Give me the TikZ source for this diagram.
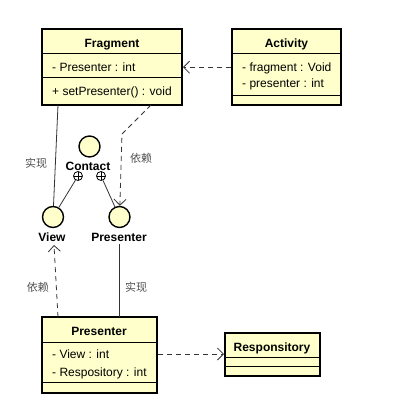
\documentclass[tikz,border=0pt]{standalone}
\usepackage{fontspec}
\setmainfont{Liberation Sans}
\newfontfamily\cjk{Noto Sans CJK SC}
\usetikzlibrary{positioning,arrows.meta}

\definecolor{umlfill}{HTML}{FFFFCC}
\definecolor{linkgray}{HTML}{333333}
\definecolor{notegray}{HTML}{505050}

\tikzset{
  classbox/.style={draw=black, line width=2pt, fill=umlfill, inner sep=0pt},
  title/.style={font=\fontsize{12}{14}\selectfont\bfseries, anchor=base, inner sep=0pt},
  attr/.style={font=\fontsize{12}{14}\selectfont, anchor=base west, inner sep=0pt},
  sepline/.style={line width=0.9pt},
  iface/.style={circle, draw=black, line width=1.4pt, fill=umlfill, minimum size=21pt, inner sep=0pt},
  plus/.style={circle, draw=black, line width=0.8pt, fill=white, minimum size=9pt, inner sep=0pt,
    path picture={\draw[line width=0.6pt] (path picture bounding box.north) -- (path picture bounding box.south)
      (path picture bounding box.west) -- (path picture bounding box.east);}},
  dep/.style={draw=linkgray, line width=0.8pt, dash pattern=on 5pt off 4pt,
    -{Straight Barb[length=6pt,width=12pt]}},
  link/.style={draw=linkgray, line width=0.8pt},
  note/.style={font=\cjk\fontsize{11}{12}\selectfont, text=notegray, inner sep=0pt}
}

\begin{document}
\begin{tikzpicture}[x=1pt,y=-1pt]
\useasboundingbox (0,0) rectangle (412,413);

\def\xfrag{52};
\def\xact{242};

% Fragment
\node[classbox, minimum width=140pt, minimum height=76pt] (frag) at (112,67) {};
\draw[sepline] (42,53) -- (182,53);
\draw[sepline] (42,77) -- (182,77);
\node[title] (fragname) at (112,47.5) {Fragment};
\node[attr] (fragattr) at (\xfrag,71.5) {- Presenter : int};
\node[attr] (fragop) at (\xfrag,95.5) {+ setPresenter() : void};

% Activity
\node[classbox, minimum width=109pt, minimum height=76pt] (act) at (286.5,67) {};
\draw[sepline] (232,53) -- (341,53);
\draw[sepline] (232,95) -- (341,95);
\node[title] (actname) at (286.5,47.5) {Activity};
\node[attr] (actattra) at (\xact,71.5) {- fragment : Void};
\node[attr] (actattrb) at (\xact,87.5) {- presenter : int};

% Presenter class
\node[classbox, minimum width=115pt, minimum height=76pt] (pcls) at (99.5,355) {};
\draw[sepline] (42,342) -- (157,342);
\draw[sepline] (42,382) -- (157,382);
\node[title] (pclsname) at (99,335) {Presenter};
\node[attr] (pclsattra) at (\xfrag,358.5) {- View : int};
\node[attr] (pclsattrb) at (\xfrag,376.5) {- Respository : int};

% Responsitory
\node[classbox, minimum width=95pt, minimum height=43pt] (resp) at (272.5,354.5) {};
\draw[sepline] (225,357) -- (320,357);
\draw[sepline] (225,366) -- (320,366);
\node[title] (respname) at (272,351.5) {Responsitory};

% interfaces
\node[iface] (contact) at (89.5,146.5) {};
\node[title] (contactlbl) at (88,170.5) {Contact};
\node[plus] (plusl) at (78,176) {};
\node[plus] (plusr) at (101,176) {};

\node[iface] (view) at (53,217) {};
\node[title] (viewlbl) at (52,241.5) {View};
\node[iface] (pres) at (119.5,217) {};
\node[title] (preslbl) at (119,241.5) {Presenter};

\coordinate (fraga) at (58,105);
\coordinate (fragb) at (151,105);
\coordinate (benda) at (122,134);
\coordinate (pclsa) at (58,317);
\coordinate (pclsb) at (119,317);
\coordinate (viewend) at (54,245);
\coordinate (presend) at (119,244);

% connectors
\draw[dep] (act.west |- fragattr) -- (frag.east |- fragattr);
\draw[link] (fraga) -- (view);
\draw[dep] (fragb) -- (benda) -- (pres);
\draw[link] (plusl) -- (view);
\draw[link] (plusr) -- (pres);
\draw[dep] (pclsa) -- (viewend);
\draw[link] (pclsb) -- (presend);
\draw[dep] (pcls.east |- 0,354) -- (resp.west |- 0,354);

\node[note] at (36,163) {实现};
\node[note] at (141,158) {依赖};
\node[note] at (38,287) {依赖};
\node[note] at (136,287) {实现};

\end{tikzpicture}
\end{document}
